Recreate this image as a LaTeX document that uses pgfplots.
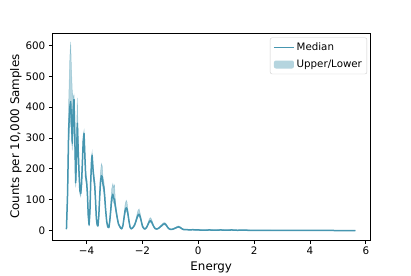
\documentclass[border=0pt]{standalone}
\usepackage{pgfplots}
\pgfplotsset{compat=1.18}
\usepackage{pgfplotstable}
\usepgfplotslibrary{fillbetween}
\usepackage{fontspec}
\setmainfont{DejaVu Sans}
\definecolor{mcol}{RGB}{70,150,176}
\pgfplotsset{
  patchlegend/.style={legend image code/.code={\path[draw=none, fill=mcol, fill opacity=0.4] (0bp,-4bp) rectangle (20bp,4bp);}},
}
\pgfplotstableread{
E med lo hi
-4.72 5 3 8
-4.68 120 100 150
-4.64 330 290 420
-4.60 400 340 560
-4.57 418 360 612
-4.54 360 300 520
-4.51 283 260 450
-4.48 390 330 430
-4.45 425 380 440
-4.42 300 250 360
-4.39 155 140 190
-4.36 240 200 300
-4.33 348 300 430
-4.30 260 220 300
-4.27 190 170 210
-4.24 130 118 145
-4.21 120 110 135
-4.18 150 135 170
-4.15 220 200 240
-4.12 290 270 310
-4.09 315 295 325
-4.06 240 220 260
-4.03 175 160 190
-4.00 160 150 175
-3.97 120 105 135
-3.94 50 40 60
-3.91 18 14 22
-3.88 60 50 70
-3.85 160 150 175
-3.82 230 215 245
-3.80 244 232 256
-3.77 200 185 215
-3.74 170 155 185
-3.71 150 135 165
-3.68 100 90 110
-3.65 40 35 48
-3.62 18 14 22
-3.59 16 12 20
-3.56 50 42 60
-3.53 110 100 130
-3.50 160 145 190
-3.47 178 160 217
-3.44 175 160 210
-3.41 150 135 170
-3.38 140 125 160
-3.35 110 95 125
-3.32 70 60 80
-3.28 30 25 35
-3.24 12 9 15
-3.20 10 8 13
-3.17 30 25 36
-3.13 70 60 90
-3.10 105 90 135
-3.06 118 100 152
-3.03 105 90 140
-3.00 100 85 148
-2.97 80 70 100
-2.94 62 55 72
-2.90 40 35 48
-2.86 22 18 26
-2.82 15 12 18
-2.78 8 6 10
-2.74 6 4 8
-2.70 15 12 18
-2.66 40 34 50
-2.62 65 56 85
-2.58 74 64 98
-2.55 70 60 92
-2.52 55 48 65
-2.48 30 26 36
-2.44 10 8 13
-2.40 6 4 8
-2.36 8 6 10
-2.32 12 10 15
-2.28 18 15 22
-2.24 28 24 34
-2.20 40 34 50
-2.16 50 44 65
-2.12 53 46 70
-2.08 45 40 56
-2.04 30 26 36
-2.00 15 12 18
-1.96 8 6 10
-1.92 5 4 7
-1.88 7 5 9
-1.84 12 10 15
-1.80 20 17 25
-1.76 28 24 36
-1.72 32 27 42
-1.68 30 25 38
-1.64 22 18 28
-1.60 14 12 17
-1.55 7 5 9
-1.50 5 4 7
-1.45 6 5 8
-1.40 9 7 11
-1.35 13 11 16
-1.30 17 14 20
-1.25 21 18 25
-1.20 22 19 26
-1.15 18 15 22
-1.10 11 9 14
-1.05 6 5 8
-1.00 4 3 6
-0.95 4 3 5
-0.90 5 4 7
-0.85 7 5 9
-0.80 9 7 11
-0.75 11 9 14
-0.70 12 10 15
-0.65 10 8 13
-0.60 7 5 9
-0.55 4 3 6
-0.50 3 2 5
-0.40 3 2 4
-0.30 2 1 4
-0.20 3 2 4
-0.10 2 1 3
0.00 2 1 3
0.20 1.5 1 2.5
0.40 2 1 3
0.60 1.5 1 2.5
0.80 2 1 3
1.00 1.5 1 2.5
1.20 2 1 3
1.40 1 0.5 2
1.60 1.5 1 2.5
1.80 1 0.5 2
2.00 1 0.5 1.5
2.40 0.8 0.4 1.2
2.80 0.6 0.3 1
3.20 0.5 0.2 0.8
3.60 0.5 0.2 0.8
4.00 0.4 0.2 0.7
4.40 0.3 0.1 0.6
4.80 0.3 0.1 0.5
5.20 0.2 0.1 0.4
5.63 0.2 0.1 0.4
}\datatab
\begin{document}
\begin{tikzpicture}
\begin{axis}[
  at={(52.5bp,34bp)}, anchor=south west,
  width=317.5bp, height=207bp, scale only axis,
  xmin=-5.22, xmax=6.15, ymin=-30.5, ymax=640.5,
  xtick={-4,-2,0,2,4,6}, xticklabels={−4,−2,0,2,4,6},
  ytick={0,100,200,300,400,500,600},
  tick pos=left, tick align=outside, major tick length=3.7bp,
  every tick/.style={black, line width=0.8bp},
  axis line style={line width=0.8bp, black},
  tick label style={font=\fontsize{10.4}{12}\selectfont},
  /pgf/number format/assume math mode=true,
  xlabel={Energy}, ylabel={Counts per 10,000 Samples},
  label style={font=\fontsize{11.9}{14}\selectfont},
  xlabel style={at={(axis description cs:0.5,-0.145)}, anchor=base},
  ylabel style={at={(axis description cs:-0.1055,0.5)}, anchor=base},
  legend style={at={(0.991,0.978)}, anchor=north east, draw=black!20, rounded corners=2bp,
    font=\fontsize{10.3}{12}\selectfont, inner xsep=3bp, inner ysep=3bp, row sep=4bp},
  legend cell align=left,
  legend image code/.code={\draw[#1] (0bp,0bp) -- (20bp,0bp);},
]
\addplot[draw=none, name path=up, forget plot] table[x=E, y=hi] {\datatab};
\addplot[draw=none, name path=lo, forget plot] table[x=E, y=lo] {\datatab};
\addplot[fill=mcol, fill opacity=0.4, draw=mcol, draw opacity=0.4, line width=0.5bp, forget plot] fill between[of=up and lo];
\addplot[mcol, line width=1.5bp, line join=round] table[x=E, y=med] {\datatab};
\addlegendentry{Median}
\addlegendimage{patchlegend}
\addlegendentry{Upper/Lower}
\end{axis}
\path (0,0) rectangle (411bp,274bp);
\end{tikzpicture}
\end{document}
